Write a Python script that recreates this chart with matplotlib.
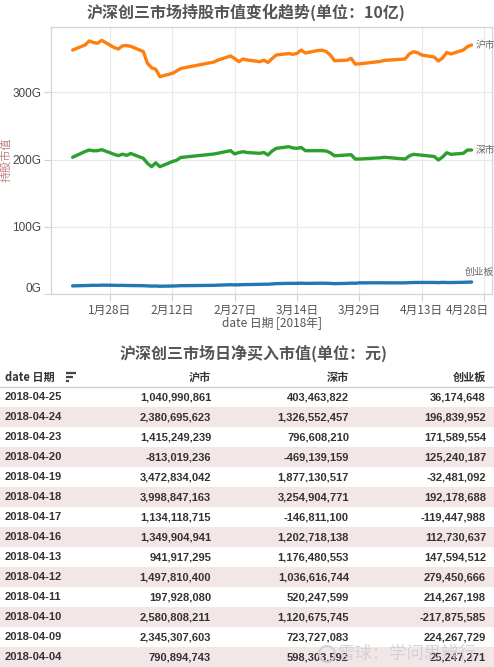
import matplotlib
matplotlib.use('Agg')
import matplotlib.pyplot as plt
from matplotlib.transforms import ScaledTranslation
from matplotlib.patches import Rectangle, Circle
import pandas as pd

CJK = ['Noto Sans CJK SC', 'DejaVu Sans']
LAT = ['Liberation Sans', 'DejaVu Sans']
plt.rcParams['font.family'] = CJK

# ---------------- data ----------------
dates = ['2018-01-19', '2018-01-22', '2018-01-23', '2018-01-24', '2018-01-25', '2018-01-26',
         '2018-01-29', '2018-01-30', '2018-01-31', '2018-02-01', '2018-02-02',
         '2018-02-05', '2018-02-06', '2018-02-07', '2018-02-08', '2018-02-09',
         '2018-02-12', '2018-02-13', '2018-02-14', '2018-02-22', '2018-02-23',
         '2018-02-26', '2018-02-27', '2018-02-28', '2018-03-01', '2018-03-02',
         '2018-03-05', '2018-03-06', '2018-03-07', '2018-03-08', '2018-03-09',
         '2018-03-12', '2018-03-13', '2018-03-14', '2018-03-15', '2018-03-16',
         '2018-03-19', '2018-03-20', '2018-03-21', '2018-03-22', '2018-03-23',
         '2018-03-26', '2018-03-27', '2018-03-28', '2018-03-29', '2018-04-03',
         '2018-04-04', '2018-04-09', '2018-04-10', '2018-04-11', '2018-04-12',
         '2018-04-13', '2018-04-16', '2018-04-17', '2018-04-18', '2018-04-19',
         '2018-04-20', '2018-04-23', '2018-04-24', '2018-04-25']

sh_hold = [362.8, 370.3, 376.2, 374.0, 372.8, 377.2,
           366.5, 364.3, 369.1, 369.4, 368.3,
           360.6, 343.1, 336.5, 334.2, 323.2,
           328.2, 331.6, 335.4, 345.0, 348.0,
           353.9, 350.2, 345.5, 349.5, 348.0,
           345.5, 347.7, 344.3, 350.2, 355.4,
           357.6, 356.4, 357.9, 362.8, 358.4,
           362.1, 362.5, 360.6, 355.4, 346.9,
           347.7, 350.5, 342.0, 342.3, 345.8,
           347.4, 349.5, 356.9, 360.3, 358.8,
           355.4, 352.4, 346.5, 351.0, 359.1,
           356.9, 362.8, 368.0, 370.3]

sz_hold = [203.5, 212.1, 214.3, 213.1, 213.3, 214.8,
           207.9, 205.9, 208.1, 206.4, 209.1,
           202.0, 194.6, 189.5, 195.3, 189.5,
           197.2, 199.0, 203.2, 208.4, 209.6,
           213.3, 208.4, 210.6, 211.8, 210.6,
           209.4, 210.6, 206.9, 212.8, 216.8,
           219.2, 217.3, 216.8, 218.0, 213.3,
           213.3, 213.3, 212.8, 210.2, 205.7,
           206.9, 207.3, 200.9, 200.9, 202.7,
           203.5, 200.9, 205.4, 207.9, 207.2,
           206.6, 204.7, 199.5, 203.9, 210.3,
           207.9, 209.4, 214.3, 214.3]

cyb_hold = [12.5, 13.0, 13.2, 13.4, 13.3, 13.6,
            13.4, 13.2, 13.3, 13.1, 13.0,
            12.8, 12.5, 12.2, 12.3, 12.0,
            12.3, 12.5, 12.8, 13.3, 13.6,
            14.2, 14.0, 14.1, 14.4, 14.5,
            14.8, 15.0, 15.0, 15.4, 15.8,
            16.3, 16.2, 16.3, 16.5, 16.2,
            16.4, 16.5, 16.4, 16.2, 15.8,
            16.2, 16.6, 16.4, 17.0, 17.1,
            17.0, 17.0, 17.3, 17.5, 17.6,
            17.6, 17.6, 17.3, 17.8, 17.5,
            17.5, 17.8, 18.0, 18.2]

series_names = ['沪市', '深市', '创业板']
series_colors = ['#ff7f0e', '#2ca02c', '#1f77b4']

tick_dates = ['2018-01-28', '2018-02-12', '2018-02-27', '2018-03-14',
              '2018-03-29', '2018-04-13', '2018-04-28']
tick_labels = ['1月28日', '2月12日', '2月27日', '3月14日', '3月29日', '4月13日', '4月28日']
y_ticks = [0, 100, 200, 300]
y_tick_labels = ['0G', '100G', '200G', '300G']

table_dates = ['2018-04-25', '2018-04-24', '2018-04-23', '2018-04-20', '2018-04-19',
               '2018-04-18', '2018-04-17', '2018-04-16', '2018-04-13', '2018-04-12',
               '2018-04-11', '2018-04-10', '2018-04-09', '2018-04-04']
table_sh = [1040990861, 2380695623, 1415249239, -813019236, 3472834042,
            3998847163, 1134118715, 1349904941, 941917295, 1497810400,
            197928080, 2580808211, 2345307603, 790894743]
table_sz = [403463822, 1326552457, 796608210, -469139159, 1877130517,
            3254904771, -146811100, 1202718138, 1176480553, 1036616744,
            520247599, 1120675745, 723727083, 598303592]
table_cyb = [36174648, 196839952, 171589554, 125240187, -32481092,
             192178688, -119447988, 112730637, 147594512, 279450666,
             214267198, -217875585, 224267729, 25247271]
table_headers = ['date 日期', '沪市', '深市', '创业板']

# ---------------- figure ----------------
W, H = 494, 667
fig = plt.figure(figsize=(W / 100, H / 100), dpi=100)
fig.patch.set_facecolor('white')

# full-figure pixel axes for titles & table
tab = fig.add_axes([0, 0, 1, 1])
tab.set_xlim(0, W)
tab.set_ylim(H, 0)
tab.axis('off')

# chart axes
L, R, T, B = 51, 492, 27, 294.3
ax = fig.add_axes([L / W, (H - B) / H, (R - L) / W, (B - T) / H])
x = pd.to_datetime(dates)
for vals, c in zip([sh_hold, sz_hold, cyb_hold], series_colors):
    ax.plot(x, vals, color=c, lw=2.4, solid_capstyle='round', solid_joinstyle='round', zorder=3)

x0 = pd.Timestamp('2018-01-28')
ax.set_xlim(x0 - pd.Timedelta(days=14.2), x0 + pd.Timedelta(days=91.9))
ax.set_ylim(0, 397)
ax.set_xticks(pd.to_datetime(tick_dates))
ax.set_xticklabels(tick_labels, fontsize=8.5, color='#555555', family=CJK)
ax.set_yticks(y_ticks)
ax.set_yticklabels(y_tick_labels, fontsize=8.5, color='#444444', family=LAT)
ax.tick_params(axis='both', length=5, color='#d0d0d0', pad=2)
ax.grid(True, color='#e8e8e8', lw=0.8, zorder=0)
for s in ax.spines.values():
    s.set_color('#d4d4d4')
    s.set_linewidth(0.9)
# raise the 0G label a little like the reference
lbl0 = ax.get_yticklabels()[0]
lbl0.set_transform(lbl0.get_transform() + ScaledTranslation(0, 7 / 100, fig.dpi_scale_trans))
# keep the last date label inside the figure
lblN = ax.get_xticklabels()[-1]
lblN.set_ha('right')
lblN.set_transform(lblN.get_transform() + ScaledTranslation(5 / 100, 0, fig.dpi_scale_trans))

# end labels
ends = [(sh_hold[-1], (4, 0), 'left'), (sz_hold[-1], (4, 0), 'left'), (cyb_hold[-1], (8, 10), 'center')]
for name, (v, off, ha) in zip(series_names, ends):
    ax.annotate(name, xy=(x[-1], v), xytext=off, textcoords='offset pixels',
                ha=ha, va='center', fontsize=7, color='#666666', family=CJK, zorder=4)

# titles and axis labels (pixel coords)
tab.text(246, 12, '沪深创三市场持股市值变化趋势(单位：10亿)', ha='center', va='center',
         fontsize=11.5, fontweight='bold', color='#555555', family=CJK)
tab.text(6, 160, '持股市值', ha='center', va='center', rotation=90,
         fontsize=8, color='#c08080', family=CJK)
tab.text(272, 323, 'date 日期 [2018年]', ha='center', va='center',
         fontsize=8.5, color='#555555', family=CJK)
tab.text(254, 353, '沪深创三市场日净买入市值(单位：元)', ha='center', va='center',
         fontsize=11.5, fontweight='bold', color='#555555', family=CJK)

# table header
hy = 377
tab.text(5, hy, table_headers[0], ha='left', va='center', fontsize=8, fontweight='bold',
         color='#333333', family=CJK)
col_x = [211, 349, 486]
for cx, hname in zip(col_x, table_headers[1:]):
    tab.text(cx, hy, hname, ha='right', va='center', fontsize=8, fontweight='bold',
             color='#333333', family=CJK)
# sort icon
for yy, x2 in [(373, 76), (377, 73), (381, 69)]:
    tab.plot([66, x2], [yy, yy], color='#444444', lw=1.6, solid_capstyle='butt')
tab.plot([0, W], [387, 387], color='#d0d0d0', lw=1.0)

# table rows
for i, (d, a, b, c) in enumerate(zip(table_dates, table_sh, table_sz, table_cyb)):
    yc = 397 + 20 * i
    if i % 2 == 1:
        tab.add_patch(Rectangle((0, yc - 10), W, 20, facecolor='#f3e6e6', edgecolor='none', zorder=0))
    tab.text(5, yc, d, ha='left', va='center', fontsize=8, fontweight='bold', color='#333333', family=LAT)
    for cx, v in zip(col_x, (a, b, c)):
        tab.text(cx, yc, f'{v:,}', ha='right', va='center', fontsize=8, fontweight='bold',
                 color='#333333', family=LAT)

# watermark
tab.add_patch(Circle((327, 654), 8, facecolor='none', edgecolor='#cfcfcf', lw=1.5, alpha=0.9, zorder=5))
tab.text(338, 654, '雪球：学问思辨行', ha='left', va='center', fontsize=12.5, color='#d0d0d0',
         alpha=0.9, family=CJK, zorder=5)

fig.savefig('out.png', dpi=100, facecolor='white')
